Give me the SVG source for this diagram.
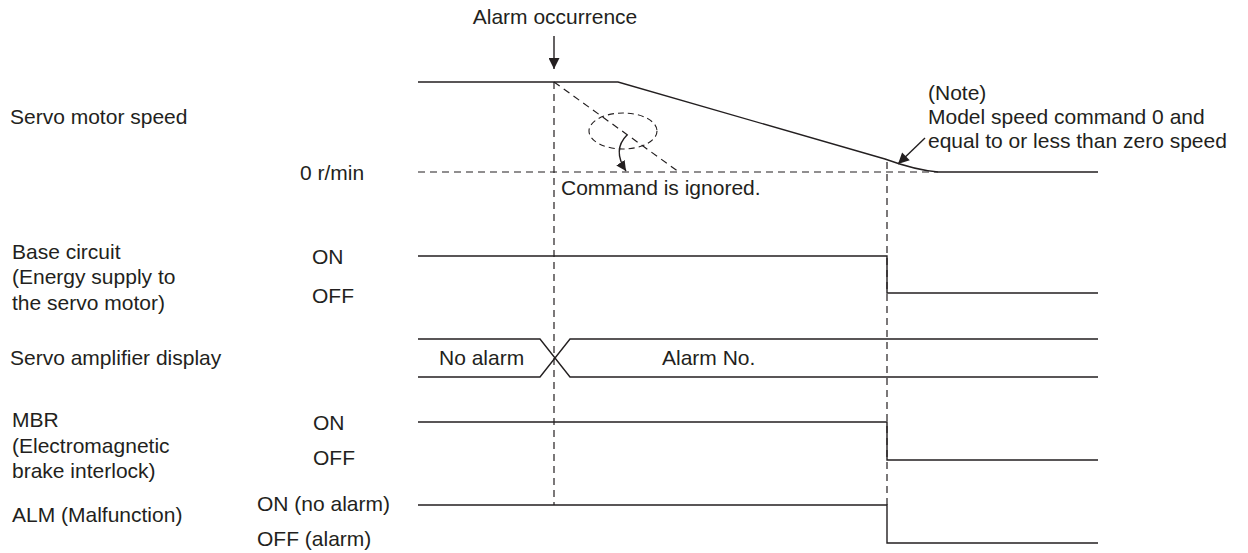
<svg xmlns="http://www.w3.org/2000/svg" width="1248" height="553" viewBox="0 0 1248 553">
<style>
text{font-family:"Liberation Sans",Arial,sans-serif;font-size:21px;fill:#231f20}
.w{fill:none;stroke:#231f20;stroke-width:1.4}
.d{fill:none;stroke:#231f20;stroke-width:1.2;stroke-dasharray:7 5}
.e{fill:none;stroke:#231f20;stroke-width:1.1;stroke-dasharray:6 4}
</style>
<defs>
<marker id="ah" viewBox="0 0 10 10" refX="10" refY="5" markerWidth="10" markerHeight="10" markerUnits="userSpaceOnUse" orient="auto">
<path d="M0,0 L10,5 L0,10 Z" fill="#231f20"/>
</marker>
<marker id="ahL" viewBox="0 0 10 10" refX="10" refY="5" markerWidth="13" markerHeight="11" markerUnits="userSpaceOnUse" orient="auto">
<path d="M0,0 L10,5 L0,10 Z" fill="#231f20"/>
</marker>
</defs>
<g id="labels">
<text x="10" y="124">Servo motor speed</text>
<text x="300" y="180">0 r/min</text>
<text x="12" y="259">Base circuit</text>
<text x="12" y="284">(Energy supply to</text>
<text x="12" y="310">the servo motor)</text>
<text x="312" y="264">ON</text>
<text x="312" y="303">OFF</text>
<text x="10" y="365">Servo amplifier display</text>
<text x="12" y="427">MBR</text>
<text x="12" y="453">(Electromagnetic</text>
<text x="12" y="478">brake interlock)</text>
<text x="313" y="430">ON</text>
<text x="313" y="465">OFF</text>
<text x="12" y="522">ALM (Malfunction)</text>
<text x="257" y="511">ON (no alarm)</text>
<text x="257" y="546">OFF (alarm)</text>
</g>
<g id="alarm-occurrence">
<text x="555" y="24" text-anchor="middle">Alarm occurrence</text>
<line x1="554" y1="36" x2="554" y2="69" class="w" marker-end="url(#ahL)"/>
</g>
<g id="speed">
<path class="w" d="M418,82 L618,82 L885,159 Q915,170 938,172 L1098,172"/>
<line class="d" x1="418" y1="172" x2="938" y2="172"/>
<line class="d" x1="554" y1="82" x2="679" y2="172"/>
<ellipse class="e" cx="623" cy="131" rx="34" ry="18"/>
<path class="w" d="M627,135 Q612,150 626,171" marker-end="url(#ah)"/>
<text x="561" y="195">Command is ignored.</text>
</g>
<g id="note">
<text x="928" y="100">(Note)</text>
<text x="928" y="124">Model speed command 0 and</text>
<text x="928" y="148">equal to or less than zero speed</text>
<line class="w" x1="925" y1="138" x2="898" y2="164" marker-end="url(#ahL)"/>
</g>
<g id="base-circuit">
<path class="w" d="M418,256 L887,256 L887,293 L1098,293"/>
</g>
<g id="display">
<path class="w" d="M418,339 L540,339 L570,377 L1098,377"/>
<path class="w" d="M418,377 L540,377 L570,339 L1098,339"/>
<text x="439" y="365">No alarm</text>
<text x="662" y="365">Alarm No.</text>
</g>
<g id="mbr">
<path class="w" d="M418,422 L887,422 L887,460 L1098,460"/>
</g>
<g id="alm">
<path class="w" d="M418,505 L887,505 L887,543 L1098,543"/>
</g>
<g id="connectors">
<line class="d" x1="554" y1="82" x2="554" y2="505"/>
<line class="d" x1="887" y1="162" x2="887" y2="505"/>
</g>
</svg>
